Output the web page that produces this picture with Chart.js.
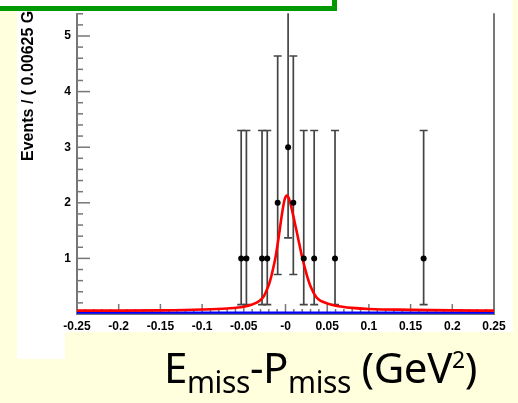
<!DOCTYPE html>
<html>
<head>
<meta charset="utf-8">
<script src="https://cdn.jsdelivr.net/npm/chart.js@4.4.1/dist/chart.umd.min.js"></script>
<style>
  html, body { margin: 0; padding: 0; background: #ffffdd; overflow: hidden; }
  #wrap { position: relative; width: 518px; height: 403px; }
  .panel { position: absolute; background: #fff; }
  #c { position: absolute; left: 0; top: 0; display: block; }
  #box { position: absolute; left: -10px; top: -10px; width: 342px; height: 16px;
         background: #fff; border: 5px solid #009a00; border-top: none; border-left: none; }
  #xt { position: absolute; left: 164px; top: 346px; font-family: "Noto Sans", sans-serif;
        font-size: 42px; line-height: 42px; white-space: nowrap; color: #000; letter-spacing: -0.4px; }
  #xt .sb { font-size: 30px; position: relative; top: 10px; }
  #xt .sp { font-size: 23px; position: relative; top: -15px; }
</style>
</head>
<body>
<div id="wrap">
  <div class="panel" style="left:17px;top:0;width:496px;height:332px"></div>
  <div class="panel" style="left:17px;top:0;width:48px;height:359px"></div>
  <canvas id="c" width="518" height="403"></canvas>
  <div id="box"></div>
  <div id="xt">E<span class="sb">miss</span>-P<span class="sb">miss</span> (GeV<span class="sp">2</span>)</div>
</div>
<script>
// data points (bin centres, bin width 0.00625)
const pointX = [-0.053125, -0.046875, -0.028125, -0.021875, -0.009375, 0.003125, 0.009375, 0.021875, 0.034375, 0.059375, 0.165625];
const pointY = [1, 1, 1, 1, 2, 3, 2, 1, 1, 1, 1];
const errLow = [0.83, 0.83, 0.83, 0.83, 1.29, 1.63, 1.29, 0.83, 0.83, 0.83, 0.83];
const errHigh = [2.3, 2.3, 2.3, 2.3, 2.64, 2.92, 2.64, 2.3, 2.3, 2.3, 2.3];

// fitted curve
const curveX = [-0.25, -0.2, -0.15, -0.1, -0.07, -0.05, -0.04, -0.031, -0.026, -0.022, -0.019, -0.0165, -0.012, -0.008, -0.004, -0.001, 0.0015, 0.004, 0.007, 0.01, 0.0146, 0.02, 0.0254, 0.03, 0.037, 0.043, 0.05, 0.06, 0.08, 0.1, 0.15, 0.2, 0.25];
const curveY = [0.06, 0.06, 0.065, 0.08, 0.1, 0.13, 0.17, 0.24, 0.32, 0.45, 0.57, 0.71, 1.02, 1.4, 1.82, 2.06, 2.13, 2.08, 1.92, 1.72, 1.4, 1.02, 0.71, 0.5, 0.3, 0.23, 0.19, 0.15, 0.11, 0.09, 0.075, 0.065, 0.06];
// background component
const bgX = [-0.25, 0.25];
const bgY = [0.025, 0.025];

const xTicks = [-0.25, -0.2, -0.15, -0.1, -0.05, 0, 0.05, 0.1, 0.15, 0.2, 0.25];
const xTickLabels = ['-0.25', '-0.2', '-0.15', '-0.1', '-0.05', '-0', '0.05', '0.1', '0.15', '0.2', '0.25'];
const yTicks = [1, 2, 3, 4, 5];
const yTickLabels = ['1', '2', '3', '4', '5'];

const tickFont = { family: 'Liberation Sans', weight: 'bold', size: 12 };

const frame = {
  id: 'frame',
  beforeDatasetsDraw(chart) {
    const { ctx, chartArea: a, scales: { x, y } } = chart;
    ctx.save();
    const seg = (x1, y1, x2, y2) => { ctx.beginPath(); ctx.moveTo(x1, y1); ctx.lineTo(x2, y2); ctx.stroke(); };

    // axis frame
    ctx.strokeStyle = '#777';
    ctx.lineWidth = 2;
    ctx.beginPath();
    ctx.moveTo(a.left, a.top);
    ctx.lineTo(a.left, a.bottom);
    ctx.lineTo(a.right, a.bottom);
    ctx.lineTo(a.right, a.top);
    ctx.stroke();

    // tick marks, pointing inward
    ctx.lineWidth = 1.5;
    for (let i = 0; i <= 50; i++) {
      const px = x.getPixelForValue(-0.25 + i * 0.01);
      seg(px, a.bottom, px, a.bottom - (i % 5 === 0 ? 10 : 5));
    }
    for (let i = 1; i * 0.2 <= y.max; i++) {
      const py = y.getPixelForValue(i * 0.2);
      seg(a.left, py, a.left + (i % 5 === 0 ? 13 : 6), py);
    }

    // y title
    ctx.fillStyle = '#000';
    ctx.font = 'bold 16px "Liberation Sans"';
    ctx.translate(33, 161);
    ctx.rotate(-Math.PI / 2);
    ctx.fillText('Events / ( 0.00625 GeV\u00b2 )', 0, 0);
    ctx.restore();

    // error bars
    ctx.save();
    ctx.beginPath();
    ctx.rect(a.left, a.top, a.right - a.left, a.bottom - a.top);
    ctx.clip();
    ctx.strokeStyle = '#444';
    ctx.lineWidth = 1.7;
    pointX.forEach((v, i) => {
      const px = x.getPixelForValue(v);
      const lo = y.getPixelForValue(pointY[i] - errLow[i]);
      const hi = y.getPixelForValue(pointY[i] + errHigh[i]);
      seg(px, lo, px, hi);
      seg(px - 4, lo, px + 4, lo);
      seg(px - 4, hi, px + 4, hi);
    });
    ctx.restore();
  }
};

new Chart(document.getElementById('c'), {
  type: 'scatter',
  data: {
    datasets: [
      {
        data: pointX.map((v, i) => ({ x: v, y: pointY[i] })),
        pointRadius: 3,
        pointBackgroundColor: '#000',
        pointBorderWidth: 0,
        showLine: false
      },
      {
        data: curveX.map((v, i) => ({ x: v, y: curveY[i] })),
        showLine: true,
        borderColor: '#ff0000',
        borderWidth: 2.6,
        pointRadius: 0,
        cubicInterpolationMode: 'monotone'
      },
      {
        data: bgX.map((v, i) => ({ x: v, y: bgY[i] })),
        showLine: true,
        borderColor: '#0000ff',
        borderWidth: 2.4,
        pointRadius: 0
      }
    ]
  },
  options: {
    responsive: false,
    animation: false,
    layout: { padding: { left: 0, right: 24, top: 0, bottom: 0 } },
    plugins: { legend: { display: false }, tooltip: { enabled: false } },
    scales: {
      x: {
        type: 'linear', min: -0.25, max: 0.25,
        grid: { display: false, drawTicks: false },
        border: { display: false },
        ticks: { padding: 5, font: tickFont, color: '#000', maxRotation: 0, autoSkip: false,
                 callback: (v, i) => xTickLabels[i] },
        afterBuildTicks: s => { s.ticks = xTicks.map(v => ({ value: v })); },
        afterFit: s => { s.height = 89; }
      },
      y: {
        min: 0, max: 5.41,
        grid: { display: false, drawTicks: false },
        border: { display: false },
        ticks: { padding: 6, font: tickFont, color: '#000', callback: (v, i) => yTickLabels[i] },
        afterBuildTicks: s => { s.ticks = yTicks.map(v => ({ value: v })); },
        afterFit: s => { s.width = 77; }
      }
    }
  },
  plugins: [frame]
});
</script>
</body>
</html>
